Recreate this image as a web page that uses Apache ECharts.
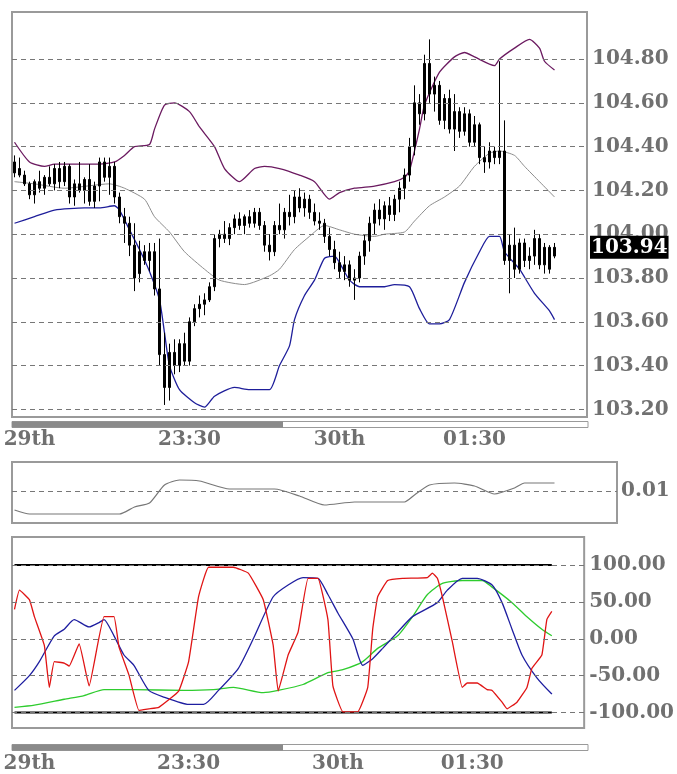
<!DOCTYPE html>
<html><head><meta charset="utf-8">
<script src="https://cdn.jsdelivr.net/npm/echarts@6/dist/echarts.min.js"></script>
<style>html,body{margin:0;padding:0;background:#fff}#c{width:677px;height:774px}</style>
</head><body><div id="c"></div>
<script>
// ---------- data ----------
const xLabels = {3:'29th', 35:'23:30', 65:'30th', 92:'01:30'};
const opens = [104.33,104.30,104.27,104.23,104.18,104.24,104.21,104.26,104.23,104.30,104.24,104.31,104.17,104.23,104.20,104.25,104.15,104.22,104.33,104.26,104.31,
 104.17,104.08,104.05,103.95,103.82,103.92,103.88,103.92,103.75,
 103.45,103.30,103.46,103.40,103.50,103.42,103.60,103.66,103.68,103.70,
 103.76,103.98,104.00,103.98,104.03,104.07,104.04,104.08,104.05,104.10,
 104.04,103.95,103.92,104.04,104.02,104.10,104.08,104.17,104.12,104.16,
 104.10,104.06,104.05,103.99,103.93,103.87,103.83,103.86,103.79,103.80,
 103.90,103.97,104.05,104.11,104.07,104.13,104.09,104.16,104.21,104.27,
 104.40,104.60,104.55,104.78,104.64,104.68,104.52,104.62,104.48,104.56,
 104.47,104.55,104.42,104.50,104.35,104.33,104.38,104.35,104.38,103.88,
 103.95,103.84,103.96,103.88,103.90,103.98,103.86,103.94,103.90];
const highs = [104.36,104.35,104.29,104.24,104.25,104.29,104.27,104.31,104.32,104.33,104.33,104.32,104.25,104.33,104.26,104.32,104.24,104.35,104.35,104.35,104.33,
 104.19,104.12,104.08,104.05,103.97,103.95,103.96,103.96,103.98,
 103.55,103.50,103.52,103.52,103.55,103.62,103.68,103.72,103.73,103.78,
 104.00,104.02,104.06,104.05,104.09,104.10,104.09,104.11,104.12,104.12,
 104.06,104.00,104.06,104.14,104.12,104.18,104.20,104.21,104.19,104.18,
 104.14,104.10,104.07,104.03,103.97,103.92,103.90,103.88,103.84,103.92,
 104.00,104.08,104.14,104.16,104.15,104.17,104.18,104.24,104.30,104.44,
 104.68,104.64,104.82,104.89,104.72,104.70,104.64,104.66,104.64,104.58,
 104.58,104.57,104.54,104.51,104.40,104.42,104.40,104.79,104.52,104.00,
 104.03,103.98,103.98,103.94,104.02,104.00,103.96,103.95,103.96];
const lows = [104.26,104.26,104.22,104.16,104.14,104.19,104.18,104.22,104.20,104.21,104.22,104.14,104.13,104.19,104.14,104.13,104.12,104.15,104.24,104.18,104.14,
 104.05,103.96,103.90,103.74,103.78,103.86,103.83,103.72,103.40,
 103.22,103.24,103.36,103.37,103.40,103.40,103.58,103.62,103.63,103.69,
 103.74,103.94,103.96,103.95,104.00,104.02,104.00,104.03,104.03,104.02,
 103.92,103.88,103.90,104.00,103.98,104.04,104.05,104.10,104.08,104.07,
 104.04,104.02,103.96,103.90,103.84,103.80,103.79,103.76,103.70,103.78,
 103.86,103.92,104.00,104.04,104.02,104.06,104.06,104.10,104.16,104.24,
 104.36,104.50,104.52,104.60,104.56,104.50,104.48,104.46,104.38,104.44,
 104.45,104.40,104.40,104.32,104.28,104.30,104.32,104.32,103.86,103.73,
 103.80,103.82,103.85,103.84,103.86,103.84,103.82,103.82,103.89];
const closes = [104.28,104.27,104.23,104.18,104.24,104.21,104.26,104.23,104.30,104.24,104.31,104.17,104.23,104.20,104.25,104.15,104.22,104.33,104.26,104.31,104.17,
 104.08,104.05,103.95,103.80,103.92,103.88,103.92,103.75,103.45,
 103.30,103.46,103.40,103.50,103.42,103.60,103.66,103.68,103.70,103.76,
 103.98,104.00,103.98,104.03,104.07,104.04,104.08,104.05,104.10,104.04,
 103.95,103.92,104.04,104.02,104.10,104.08,104.17,104.12,104.16,104.10,
 104.06,104.05,103.99,103.93,103.87,103.83,103.86,103.79,103.80,103.90,
 103.97,104.05,104.11,104.07,104.13,104.09,104.16,104.21,104.27,104.40,
 104.60,104.55,104.78,104.64,104.68,104.52,104.62,104.48,104.56,104.47,
 104.55,104.42,104.50,104.35,104.33,104.38,104.35,104.38,103.88,103.95,
 103.84,103.96,103.88,103.90,103.98,103.86,103.94,103.84,103.94];
const upperBand = [[0,104.42],[3,104.33],[6,104.31],[8,104.32],[17,104.32],[20,104.33],[22,104.36],[24,104.40],[27,104.41],[28,104.48],[30,104.59],[32,104.60],[35,104.56],[37,104.49],[40,104.40],[42,104.30],[45,104.24],[48,104.30],[50,104.31],[53,104.30],[57,104.27],[60,104.24],[63,104.16],[65,104.19],[68,104.21],[72,104.22],[76,104.24],[78,104.26],[79,104.29],[81,104.48],[82,104.59],[85,104.74],[88,104.81],[90,104.83],[92,104.81],[96,104.77],[97,104.80],[100,104.85],[103,104.89],[105,104.85],[106,104.79],[108,104.75]];
const midBand = [[0,104.24],[4,104.23],[10,104.21],[19,104.23],[22,104.21],[26,104.16],[28,104.08],[31,104.01],[34,103.92],[38,103.84],[41,103.79],[46,103.77],[51,103.81],[53,103.84],[56,103.93],[59,103.99],[62,104.04],[65,104.02],[68,104.00],[72,103.99],[74,104.00],[78,104.01],[80,104.06],[83,104.13],[86,104.17],[89,104.22],[92,104.31],[95,104.37],[97,104.38],[100,104.36],[102,104.31],[105,104.24],[108,104.17]];
const lowerBand = [[0,104.05],[4,104.08],[8,104.11],[14,104.12],[17,104.12],[20,104.13],[21,104.11],[23,104.02],[25,103.93],[27,103.83],[29,103.70],[30,103.55],[31,103.40],[33,103.29],[36,103.23],[38,103.21],[40,103.26],[44,103.30],[47,103.29],[51,103.29],[53,103.40],[55,103.49],[56,103.61],[58,103.72],[60,103.79],[62,103.89],[64,103.90],[65,103.87],[67,103.79],[69,103.76],[74,103.76],[76,103.77],[79,103.76],[81,103.66],[83,103.59],[85,103.59],[87,103.61],[90,103.78],[93,103.92],[95,103.99],[97,103.99],[98,103.92],[101,103.84],[104,103.73],[107,103.65],[108,103.61]];
const lastPrice = 103.94;
const priceTicks = [103.2,103.4,103.6,103.8,104.0,104.2,104.4,104.6,104.8];

const volTicks = [0.01];
const volLine = [[0,0.0081],[3,0.0077],[21,0.0077],[24,0.0084],[27,0.0088],[30,0.0106],[33,0.0111],[37,0.0110],[43,0.0102],[52,0.0102],[57,0.0095],[62,0.0086],[68,0.0089],[78,0.0089],[80,0.0096],[83,0.0106],[88,0.0108],[92,0.0105],[96,0.0097],[100,0.0103],[102,0.0108],[108,0.0108]];

const oscTicks = [100,50,0,-50,-100];
const oscBounds = [100,-100];
const oscRed = [[0,40],[1,66],[3,53],[4,30],[6,-9],[7,-66],[8,-31],[10,-33],[11,-37],[13,-7],[15,-64],[18,30],[20,30],[21,-11],[23,-49],[25,-97],[27,-95],[29,-93],[33,-71],[35,-31],[37,57],[39,97],[44,97],[47,89],[50,53],[52,-9],[53,-71],[55,-22],[57,9],[59,82],[61,82],[63,26],[64,-64],[66,-99],[69,-99],[71,-66],[72,13],[73,57],[75,79],[78,82],[83,83],[84,89],[85,82],[86,57],[88,-4],[90,-66],[91,-60],[93,-60],[95,-69],[96,-70],[98,-86],[99,-95],[101,-86],[103,-66],[104,-40],[106,-22],[107,26],[108,37]];
const oscBlue = [[0,-70],[3,-50],[5,-31],[8,4],[10,13],[12,26],[15,16],[17,22],[18,26],[20,4],[22,-22],[24,-36],[27,-70],[30,-79],[35,-89],[38,-89],[41,-70],[45,-40],[48,0],[52,57],[55,73],[58,83],[61,82],[63,60],[65,35],[68,0],[70,-36],[72,-27],[74,-13],[77,9],[80,30],[85,49],[87,66],[90,82],[93,82],[96,73],[98,49],[100,13],[102,-22],[105,-53],[108,-75]];
const oscGreen = [[0,-93],[4,-90],[10,-82],[14,-77],[18,-69],[24,-69],[34,-70],[40,-69],[44,-66],[50,-73],[53,-70],[58,-62],[63,-46],[66,-42],[70,-31],[73,-13],[77,4],[80,30],[83,60],[86,75],[90,79],[94,79],[96,70],[100,49],[103,30],[106,13],[108,4]];

// ---------- chart ----------
const barCount = opens.length;
const catsMain = Array.from({length:115}, (_, i) => String(i));
const catsMid = Array.from({length:121}, (_, i) => String(i));
const font = {fontFamily:'DejaVu Serif', fontWeight:'bold', fontSize:20, color:'#707070'};
const gridDash = {type:[5,4], color:'#777', width:1};

function gridSeries(xi, ticks) {
  return {type:'line', xAxisIndex:xi, yAxisIndex:xi, data:[], silent:true, z:1,
    markLine:{silent:true, symbol:'none', label:{show:false}, lineStyle:gridDash,
      data: ticks.map(v => ({yAxis:v}))}};
}
function lineS(xi, data, color, width, smooth) {
  return {type:'line', xAxisIndex:xi, yAxisIndex:xi, data, showSymbol:false, symbol:'none',
    smooth: smooth || false, lineStyle:{color, width}, z:2, silent:true};
}
const xLab = {show:true, interval:(i) => xLabels[i] !== undefined, formatter:(v, i) => xLabels[i] || '', ...font};

const chart = echarts.init(document.getElementById('c'));
chart.setOption({
  animation:false,
  backgroundColor:'#fff',
  grid:[
    {left:12, top:12, width:575, height:405, show:true, borderColor:'#9a9a9a', borderWidth:2},
    {left:12, top:462, width:605, height:61, show:true, borderColor:'#9a9a9a', borderWidth:2},
    {left:12, top:537, width:575, height:196, show:true, borderColor:'#9a9a9a', borderWidth:2}
  ],
  xAxis:[
    {gridIndex:0, type:'category', data:catsMain, boundaryGap:true, axisLine:{show:false}, axisTick:{show:false}, splitLine:{show:false}, axisLabel:{...xLab, margin:13}},
    {gridIndex:1, type:'category', data:catsMid, boundaryGap:true, axisLine:{show:false}, axisTick:{show:false}, splitLine:{show:false}, axisLabel:{show:false}},
    {gridIndex:2, type:'category', data:catsMain, boundaryGap:true, axisLine:{show:false}, axisTick:{show:false}, splitLine:{show:false}, axisLabel:{...xLab, margin:26}}
  ],
  yAxis:[
    {gridIndex:0, type:'value', position:'right', min:103.165, max:105.015, axisLine:{show:false}, axisTick:{show:false}, splitLine:{show:false},
      axisLabel:{...font, margin:5, customValues:priceTicks, formatter:v => Number(v).toFixed(2)}},
    {gridIndex:1, type:'value', position:'right', min:0.0068, max:0.0129, axisLine:{show:false}, axisTick:{show:false}, splitLine:{show:false},
      axisLabel:{...font, margin:4, customValues:volTicks, formatter:v => Number(v).toFixed(2)}},
    {gridIndex:2, type:'value', position:'right', min:-121, max:138, axisLine:{show:false}, axisTick:{show:false}, splitLine:{show:false},
      axisLabel:{...font, margin:5, customValues:oscTicks, formatter:v => Number(v).toFixed(2)}}
  ],
  graphic:[
    {type:'rect', shape:{x:12, y:421.5, width:576, height:6}, style:{fill:'#fff', stroke:'#9a9a9a', lineWidth:1}},
    {type:'rect', shape:{x:12, y:421.5, width:271, height:6}, style:{fill:'#8a8a8a'}},
    {type:'rect', shape:{x:12, y:744.5, width:576, height:6}, style:{fill:'#fff', stroke:'#9a9a9a', lineWidth:1}},
    {type:'rect', shape:{x:12, y:744.5, width:271, height:6}, style:{fill:'#8a8a8a'}}
  ],
  series:[
    gridSeries(0, priceTicks),
    lineS(0, upperBand, '#6b1a60', 1.3, 0.2),
    lineS(0, midBand, '#8c8c8c', 1, 0.2),
    lineS(0, lowerBand, '#1e1e9a', 1.3, 0.2),
    {type:'candlestick', xAxisIndex:0, yAxisIndex:0, z:3, barWidth:3, silent:true,
      data: opens.map((o, i) => [o, closes[i], lows[i], highs[i]]),
      itemStyle:{color:'#000', color0:'#000', borderColor:'#000', borderColor0:'#000', borderWidth:1}},
    {type:'line', xAxisIndex:0, yAxisIndex:0, data:[], silent:true, z:5,
      markLine:{silent:true, symbol:'none', lineStyle:{color:'rgba(0,0,0,0)', width:1}, data:[{yAxis:lastPrice}],
        label:{show:true, position:'end', distance:3, formatter:lastPrice.toFixed(2), backgroundColor:'#000',
          color:'#fff', fontFamily:'DejaVu Serif', fontWeight:'bold', fontSize:20, padding:[2,1,1,1]}}},
    gridSeries(1, volTicks),
    lineS(1, volLine, '#777', 1.2, 0.2),
    gridSeries(2, oscTicks),
    lineS(2, [[0, oscBounds[0]], [barCount - 1, oscBounds[0]]], '#000', 2),
    lineS(2, [[0, oscBounds[1]], [barCount - 1, oscBounds[1]]], '#000', 2),
    lineS(2, oscGreen, '#2ecc2e', 1.3, 0.2),
    lineS(2, oscBlue, '#1e1ea0', 1.3, 0.2),
    lineS(2, oscRed, '#e01414', 1.3, 0.1)
  ]
});
</script></body></html>
